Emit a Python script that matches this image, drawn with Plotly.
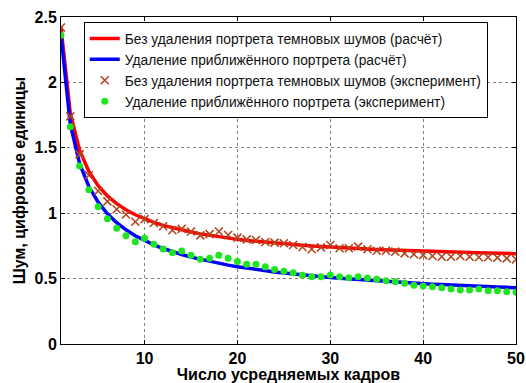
import plotly.graph_objects as go

frames = list(range(1, 51))

calc_no_removal = [2.420, 1.764, 1.482, 1.319, 1.210, 1.132, 1.073, 1.026, 0.988, 0.957,
                   0.930, 0.907, 0.888, 0.871, 0.856, 0.842, 0.830, 0.819, 0.809, 0.800,
                   0.792, 0.785, 0.778, 0.771, 0.765, 0.760, 0.755, 0.750, 0.745, 0.741,
                   0.737, 0.733, 0.730, 0.726, 0.723, 0.720, 0.717, 0.714, 0.712, 0.709,
                   0.707, 0.705, 0.703, 0.701, 0.699, 0.697, 0.695, 0.693, 0.691, 0.690]

calc_removal = [2.360, 1.680, 1.381, 1.204, 1.084, 0.995, 0.927, 0.873, 0.828, 0.790,
                0.758, 0.730, 0.705, 0.684, 0.664, 0.647, 0.631, 0.617, 0.603, 0.591,
                0.580, 0.570, 0.560, 0.551, 0.543, 0.535, 0.528, 0.521, 0.514, 0.508,
                0.502, 0.497, 0.491, 0.486, 0.482, 0.477, 0.473, 0.469, 0.465, 0.461,
                0.457, 0.454, 0.450, 0.447, 0.444, 0.441, 0.438, 0.435, 0.433, 0.430]

exp_no_removal = [2.42, 1.74, 1.45, 1.29, 1.17, 1.09, 1.03, 0.99, 0.935, 0.955,
                  0.925, 0.90, 0.87, 0.88, 0.86, 0.83, 0.84, 0.86, 0.833, 0.813,
                  0.80, 0.795, 0.78, 0.775, 0.77, 0.757, 0.742, 0.724, 0.739, 0.757,
                  0.732, 0.732, 0.744, 0.724, 0.713, 0.713, 0.706, 0.693, 0.686, 0.68,
                  0.673, 0.667, 0.667, 0.673, 0.667, 0.663, 0.663, 0.66, 0.655, 0.647]

exp_removal = [2.36, 1.66, 1.36, 1.18, 1.05, 0.958, 0.884, 0.828, 0.782, 0.808,
               0.762, 0.726, 0.698, 0.711, 0.678, 0.647, 0.655, 0.678, 0.655, 0.63,
               0.61, 0.61, 0.59, 0.57, 0.556, 0.545, 0.525, 0.515, 0.515, 0.528,
               0.515, 0.507, 0.515, 0.505, 0.495, 0.484, 0.476, 0.464, 0.449, 0.443,
               0.438, 0.43, 0.42, 0.413, 0.413, 0.42, 0.407, 0.407, 0.40, 0.395]

x_ticks = [10, 20, 30, 40, 50]
y_ticks = [0, 0.5, 1, 1.5, 2, 2.5]
y_tick_text = ["0", "0.5", "1", "1.5", "2", "2.5"]

names = [
    "Без удаления портрета темновых шумов (расчёт)",
    "Удаление приближённого портрета (расчёт)",
    "Без удаления портрета темновых шумов (эксперимент)",
    "Удаление приближённого портрета (эксперимент)",
]

FONT = "Arial, Liberation Sans, sans-serif"

fig = go.Figure()
fig.add_trace(go.Scatter(x=frames, y=calc_no_removal, mode="lines", name=names[0],
                         line=dict(color="#ff0000", width=3.5)))
fig.add_trace(go.Scatter(x=frames, y=calc_removal, mode="lines", name=names[1],
                         line=dict(color="#0000ff", width=3.5)))
fig.add_trace(go.Scatter(x=frames, y=exp_no_removal, mode="markers", name=names[2],
                         marker=dict(symbol="x-thin", size=8, color="#b4461e",
                                     line=dict(color="#b4461e", width=1.6))))
fig.add_trace(go.Scatter(x=frames, y=exp_removal, mode="markers", name=names[3],
                         marker=dict(symbol="circle", size=7, color="#1ee61e",
                                     line=dict(width=0))))

axis_common = dict(
    automargin=False,
    showline=True, linecolor="black", linewidth=1, mirror="ticks",
    ticks="inside", ticklen=4, tickcolor="black",
    showgrid=True, gridcolor="#808080", griddash="dot", gridwidth=1,
    zeroline=False,
    tickfont=dict(family=FONT, size=16, color="black", weight="bold"),
)

fig.update_xaxes(range=[1, 50], tickvals=x_ticks, ticktext=[str(v) for v in x_ticks],
                 title=dict(text="Число усредняемых кадров", standoff=3,
                            font=dict(family=FONT, size=16, color="black", weight="bold")),
                 **axis_common)
fig.update_yaxes(range=[0, 2.5], tickvals=y_ticks, ticktext=y_tick_text,
                 title=dict(text="Шум, цифровые единицы", standoff=4,
                            font=dict(family=FONT, size=16, color="black", weight="bold")),
                 **axis_common)

fig.update_layout(
    template="none",
    width=526, height=383,
    margin=dict(l=61, r=10, t=17, b=39),
    paper_bgcolor="white", plot_bgcolor="white",
    font=dict(family=FONT, color="black"),
    showlegend=True,
    legend=dict(x=0.05, y=0.985, xanchor="left", yanchor="top",
                bgcolor="white", bordercolor="black", borderwidth=1,
                font=dict(family=FONT, size=13.8, color="#111111"),
                tracegroupgap=0, itemwidth=30),
)

fig.write_html("out.html",
               config={"displayModeBar": False},
               post_script="document.body.style.margin='0';document.body.style.overflow='hidden';")
